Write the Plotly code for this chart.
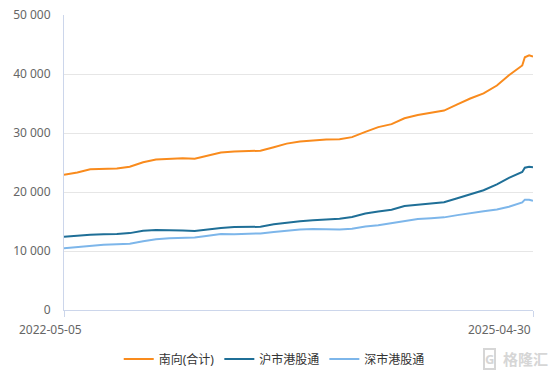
import plotly.graph_objects as go

dates = [
    "2022-05-05", "2022-06-05", "2022-07-05", "2022-08-05", "2022-09-05", "2022-10-05",
    "2022-11-05", "2022-12-05", "2023-01-05", "2023-02-05", "2023-03-05", "2023-04-05",
    "2023-05-05", "2023-06-05", "2023-07-05", "2023-08-05", "2023-09-05", "2023-10-05",
    "2023-11-05", "2023-12-05", "2024-01-05", "2024-02-05", "2024-03-05", "2024-04-05",
    "2024-05-05", "2024-06-05", "2024-07-05", "2024-08-05", "2024-09-05", "2024-10-05",
    "2024-11-05", "2024-12-05", "2025-01-05", "2025-02-05", "2025-03-05", "2025-04-05",
    "2025-04-11", "2025-04-21", "2025-04-30",
]

south_total = [
    22900, 23300, 23850, 23950, 24000, 24280, 25050, 25500, 25650, 25700, 25650, 26250,
    26700, 26850, 26920, 27000, 27600, 28200, 28560, 28750, 28880, 28950, 29300, 30200,
    31000, 31500, 32500, 33050, 33450, 33800, 34850, 35850, 36700, 38050, 39800, 41450,
    42830, 43170, 42940,
]

sh_connect = [
    12400, 12620, 12750, 12840, 12870, 13030, 13450, 13580, 13590, 13480, 13400, 13700,
    13900, 14050, 14050, 14100, 14550, 14850, 15050, 15200, 15300, 15450, 15750, 16350,
    16700, 17000, 17630, 17850, 18090, 18250, 18950, 19620, 20300, 21300, 22400, 23400,
    24120, 24290, 24200,
]

sz_connect = [
    10450, 10680, 10950, 11080, 11160, 11250, 11650, 11980, 12150, 12250, 12300, 12600,
    12870, 12860, 12880, 12980, 13220, 13480, 13650, 13720, 13670, 13640, 13780, 14150,
    14350, 14700, 15050, 15420, 15550, 15700, 16080, 16450, 16750, 17050, 17500, 18250,
    18700, 18700, 18500,
]

series_names = ["南向(合计)", "沪市港股通", "深市港股通"]
series_colors = ["#f98b1d", "#1f6f97", "#7db6ea"]

y_ticks = [0, 10000, 20000, 30000, 40000, 50000]
y_tick_text = ["0", "10 000", "20 000", "30 000", "40 000", "50 000"]
x_labels = ["2022-05-05", "2025-04-30"]

FONT = "Noto Sans, Noto Sans CJK SC, sans-serif"

fig = go.Figure()
for name, vals, col in zip(series_names, [south_total, sh_connect, sz_connect], series_colors):
    fig.add_trace(go.Scatter(
        x=dates, y=vals, name=name, mode="lines",
        line=dict(color=col, width=2),
    ))

fig.update_layout(
    width=554, height=379,
    margin=dict(l=64, r=21, t=15, b=69, autoexpand=False),
    paper_bgcolor="white", plot_bgcolor="white",
    font=dict(family=FONT, size=12, color="#666666"),
    showlegend=True,
    legend=dict(
        orientation="h", xref="container", x=0.495, xanchor="center",
        yref="container", y=0.053, yanchor="middle",
        font=dict(size=12, color="#333333", family=FONT),
        itemwidth=30, tracegroupgap=0, itemclick=False,
    ),
    xaxis=dict(
        type="date", range=[x_labels[0], x_labels[1]], automargin=False,
        showgrid=False, showline=True, linecolor="#ccd6eb", linewidth=1,
        tickmode="array", tickvals=x_labels, ticktext=["", ""],
        ticks="outside", ticklen=6, tickcolor="#ccd6eb",
        zeroline=False, fixedrange=True,
    ),
    yaxis=dict(
        range=[0, 50000], tickmode="array", tickvals=y_ticks, ticktext=y_tick_text,
        automargin=False,
        showgrid=True, gridcolor="#e6e6e6", gridwidth=1,
        showline=True, linecolor="#ccd6eb", linewidth=1,
        zeroline=False, ticks="", ticklabelstandoff=10,
        tickfont=dict(size=12, color="#666666"), fixedrange=True,
    ),
)

# x-axis end labels (first shifted left, last right-aligned to its tick)
fig.add_annotation(x=x_labels[0], y=0, xref="x", yref="y", text=x_labels[0],
                   showarrow=False, xanchor="center", yanchor="top",
                   xshift=-14, yshift=-9, font=dict(size=12, color="#666666"))
fig.add_annotation(x=x_labels[1], y=0, xref="x", yref="y", text=x_labels[1],
                   showarrow=False, xanchor="right", yanchor="top",
                   yshift=-9, font=dict(size=12, color="#666666"))

# watermark
fig.add_annotation(xref="paper", yref="paper", x=(489 - 64) / 469, y=-(359 - 310) / 295,
                   text="<b>G</b>", showarrow=False, xanchor="center", yanchor="middle",
                   font=dict(size=13, color="#d6d6d6"),
                   bordercolor="#d6d6d6", borderwidth=2, borderpad=0)
fig.add_annotation(xref="paper", yref="paper", x=(525 - 64) / 469, y=-(359 - 310) / 295,
                   text="<b>格隆汇</b>", showarrow=False, xanchor="center", yanchor="middle",
                   font=dict(size=15, color="#d6d6d6", family=FONT))

fig.write_html("out.html")
